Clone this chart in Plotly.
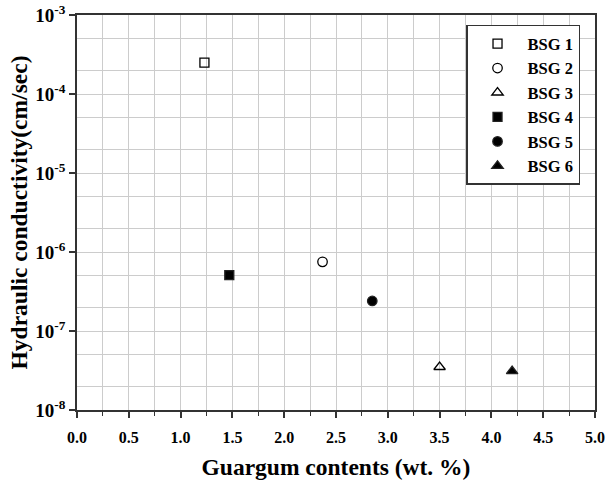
import plotly.graph_objects as go

names = ["BSG 1", "BSG 2", "BSG 3", "BSG 4", "BSG 5", "BSG 6"]
guargum = [1.23, 2.37, 3.50, 1.47, 2.85, 4.20]
conductivity = [2.5e-4, 7.5e-7, 3.5e-8, 5.1e-7, 2.4e-7, 3.1e-8]
symbols = ["square-open", "circle-open", "triangle-up-open", "square", "circle", "triangle-up"]
sizes = [9, 9.5, 10, 9, 9.5, 10]

x_ticks = [0.0, 0.5, 1.0, 1.5, 2.0, 2.5, 3.0, 3.5, 4.0, 4.5, 5.0]
y_ticks = [1e-8, 1e-7, 1e-6, 1e-5, 1e-4, 1e-3]
y_ticktext = ["10<sup>-8</sup>", "10<sup>-7</sup>", "10<sup>-6</sup>", "10<sup>-5</sup>", "10<sup>-4</sup>", "10<sup>-3</sup>"]

font = "Liberation Serif"
fig = go.Figure()
for n, xv, yv, s, sz in zip(names, guargum, conductivity, symbols, sizes):
    fig.add_trace(go.Scatter(
        x=[xv], y=[yv], mode="markers", name=n,
        marker=dict(symbol=s, size=sz, color="black", line=dict(color="#222", width=1.3)),
    ))

fig.update_layout(
    width=607, height=482,
    margin=dict(l=77, r=12, t=15, b=72),
    paper_bgcolor="white", plot_bgcolor="white",
    font=dict(family=font, color="black"),
    showlegend=True,
    legend=dict(
        x=0.751, y=0.975, xanchor="left", yanchor="top",
        bgcolor="white", bordercolor="#333", borderwidth=1.5,
        itemwidth=50, entrywidth=90,
        font=dict(family=font, size=16.5, color="black", weight="bold"),
    ),
    xaxis=dict(
        range=[0, 5], tickvals=x_ticks, ticktext=[f"{v:.1f}" for v in x_ticks],
        ticks="outside", ticklen=6, tickwidth=1.5, tickcolor="#333",
        minor=dict(dtick=0.25, tick0=0, ticks="outside", ticklen=4, tickwidth=1.2, tickcolor="#333",
                   showgrid=True, gridcolor="#cccccc", gridwidth=1),
        showgrid=True, gridcolor="#cccccc", gridwidth=1,
        showline=True, linecolor="#333", linewidth=1.5, mirror=True,
        tickfont=dict(family=font, size=16, weight="bold"),
        ticklabeloverflow="allow", ticklabelstandoff=6,
        title=dict(text="Guargum contents (wt. %)", font=dict(family=font, size=23.5, weight="bold"), standoff=14),
        zeroline=False, automargin=False,
    ),
    yaxis=dict(
        type="log", range=[-8, -3], tickvals=y_ticks, ticktext=y_ticktext,
        ticks="outside", ticklen=6, tickwidth=1.5, tickcolor="#333",
        minor=dict(ticks="", showgrid=True, gridcolor="#cccccc", gridwidth=1),
        showgrid=True, gridcolor="#cccccc", gridwidth=1,
        showline=True, linecolor="#333", linewidth=1.5, mirror=True,
        tickfont=dict(family=font, size=19, weight="bold"),
        ticklabeloverflow="allow",
        title=dict(text="Hydraulic conductivity(cm/sec)", font=dict(family=font, size=23.5, weight="bold"), standoff=1),
        zeroline=False, automargin=False,
    ),
)

fig.write_html("out.html", config={"displayModeBar": False},
               post_script="document.body.style.margin='0';")
